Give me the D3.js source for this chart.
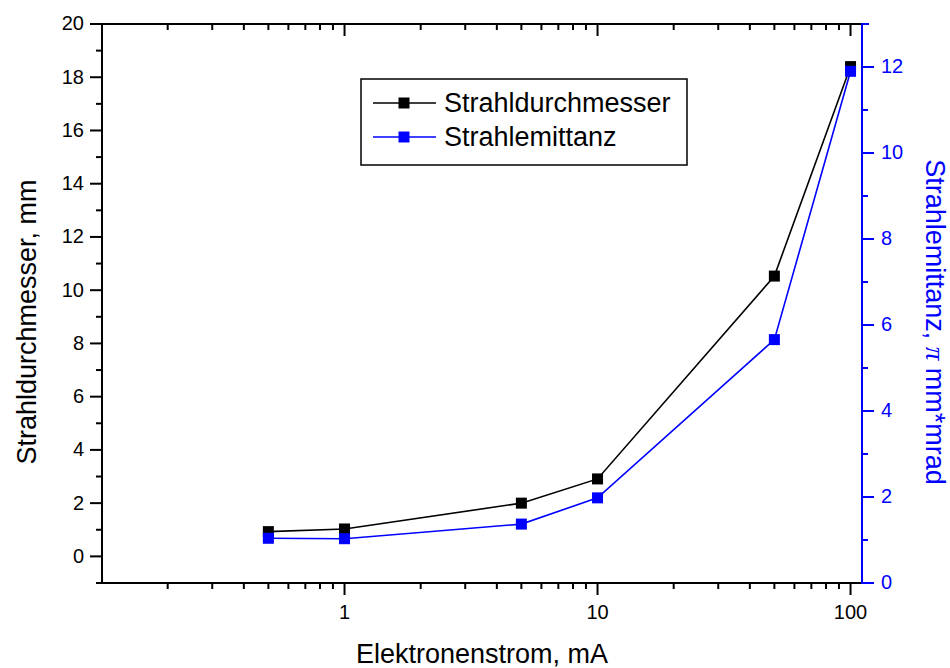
<!DOCTYPE html>
<html>
<head>
<meta charset="utf-8">
<script src="https://cdn.jsdelivr.net/npm/d3@7"></script>
<style>
  body { margin: 0; background: #fff; }
  svg text { font-family: "Liberation Sans", Arial, sans-serif; }
</style>
</head>
<body>
<div id="chart"></div>
<script>
// data
var current = [0.5, 1, 5, 10, 50, 100];              // Elektronenstrom, mA
var diameter = [0.93, 1.03, 2.0, 2.91, 10.53, 18.4]; // Strahldurchmesser, mm
var emittance = [1.04, 1.03, 1.37, 1.98, 5.66, 11.9]; // Strahlemittanz, pi mm*mrad

var xMajor = [1, 10, 100];
var xMinor = [0.2, 0.3, 0.4, 0.5, 0.6, 0.7, 0.8, 0.9, 2, 3, 4, 5, 6, 7, 8, 9, 20, 30, 40, 50, 60, 70, 80, 90];
var leftMajor = [0, 2, 4, 6, 8, 10, 12, 14, 16, 18, 20];
var leftMinor = [-1, 1, 3, 5, 7, 9, 11, 13, 15, 17, 19];
var rightMajor = [0, 2, 4, 6, 8, 10, 12];
var rightMinor = [1, 3, 5, 7, 9, 11];

var W = 950, H = 668;
var margin = {top: 24, right: 88, bottom: 85, left: 102},
    width = W - margin.left - margin.right,
    height = H - margin.top - margin.bottom;

var svg = d3.select("#chart")
  .append("svg")
  .attr("width", W)
  .attr("height", H);
var chart = svg.append("g")
  .attr("transform", "translate(" + margin.left + "," + margin.top + ")");

var x = d3.scaleLog().domain([0.11, 111]).range([0, width]);
var yL = d3.scaleLinear().domain([-1, 20]).range([height, 0]);
var yR = d3.scaleLinear().domain([0, 13]).range([height, 0]);

function styleAxis(g, color) {
  g.select(".domain").remove();
  g.selectAll(".tick line").attr("stroke", color).attr("stroke-width", 2);
  g.selectAll(".tick text").attr("fill", color).style("font-size", "20px");
}

// bottom axis
chart.append("g")
  .attr("transform", "translate(0," + height + ")")
  .call(d3.axisBottom(x).tickValues(xMinor).tickSize(6).offset(0).tickFormat(""))
  .call(styleAxis, "#000");
chart.append("g")
  .attr("transform", "translate(0," + height + ")")
  .call(d3.axisBottom(x).tickValues(xMajor).tickSize(12).offset(0).tickPadding(10).tickFormat(d3.format("d")))
  .call(styleAxis, "#000");

// top mirror axis (ticks inward)
chart.append("g")
  .call(d3.axisBottom(x).tickValues(xMinor).tickSize(6).offset(0).tickFormat(""))
  .call(styleAxis, "#000");
chart.append("g")
  .call(d3.axisBottom(x).tickValues(xMajor).tickSize(12).offset(0).tickFormat(""))
  .call(styleAxis, "#000");

// left axis
chart.append("g")
  .call(d3.axisLeft(yL).tickValues(leftMinor).tickSize(6).offset(0).tickFormat(""))
  .call(styleAxis, "#000");
chart.append("g")
  .call(d3.axisLeft(yL).tickValues(leftMajor).tickSize(12).offset(0).tickPadding(6).tickFormat(d3.format("d")))
  .call(styleAxis, "#000");

// right axis (blue)
chart.append("g")
  .attr("transform", "translate(" + width + ",0)")
  .call(d3.axisRight(yR).tickValues(rightMinor).tickSize(6).offset(0).tickFormat(""))
  .call(styleAxis, "#0000ff");
chart.append("g")
  .attr("transform", "translate(" + width + ",0)")
  .call(d3.axisRight(yR).tickValues(rightMajor).tickSize(12).offset(0).tickPadding(7).tickFormat(d3.format("d")))
  .call(styleAxis, "#0000ff");

// frame
chart.append("line").attr("x1", -1).attr("x2", width).attr("y1", height).attr("y2", height)
  .attr("stroke", "#000").attr("stroke-width", 2);
chart.append("line").attr("x1", -1).attr("x2", width).attr("y1", 0).attr("y2", 0)
  .attr("stroke", "#000").attr("stroke-width", 2);
chart.append("line").attr("x1", 0).attr("x2", 0).attr("y1", 0).attr("y2", height + 1)
  .attr("stroke", "#000").attr("stroke-width", 2);
chart.append("line").attr("x1", width).attr("x2", width).attr("y1", -1).attr("y2", height + 1)
  .attr("stroke", "#0000ff").attr("stroke-width", 2);
chart.append("line").attr("x1", width).attr("x2", width + 7).attr("y1", 0).attr("y2", 0)
  .attr("stroke", "#0000ff").attr("stroke-width", 2);

// series
var series = [
  {name: "Strahldurchmesser", values: diameter, y: yL, color: "#000000"},
  {name: "Strahlemittanz", values: emittance, y: yR, color: "#0000ff"}
];
var sq = 11;

series.forEach(function(s) {
  var line = d3.line()
    .x(function(d, i) { return x(current[i]); })
    .y(function(d) { return s.y(d); });
  chart.append("path")
    .datum(s.values)
    .attr("d", line)
    .attr("fill", "none")
    .attr("stroke", s.color)
    .attr("stroke-width", 1.6);
});
series.forEach(function(s) {
  chart.selectAll(null)
    .data(s.values)
    .enter()
    .append("rect")
    .attr("x", function(d, i) { return x(current[i]) - sq / 2; })
    .attr("y", function(d) { return s.y(d) - sq / 2; })
    .attr("width", sq)
    .attr("height", sq)
    .attr("fill", s.color);
});

// legend
var legend = svg.append("g");
legend.append("rect")
  .attr("x", 361).attr("y", 79).attr("width", 326).attr("height", 86)
  .attr("fill", "#fff").attr("stroke", "#000").attr("stroke-width", 1.5);
series.forEach(function(s, i) {
  var ly = 103 + i * 34;
  legend.append("line")
    .attr("x1", 373).attr("x2", 436).attr("y1", ly).attr("y2", ly)
    .attr("stroke", s.color).attr("stroke-width", 1.6);
  legend.append("rect")
    .attr("x", 404 - sq / 2).attr("y", ly - sq / 2).attr("width", sq).attr("height", sq)
    .attr("fill", s.color);
  legend.append("text")
    .attr("x", 444).attr("y", ly)
    .attr("dominant-baseline", "central")
    .style("font-size", "27px")
    .text(s.name);
});

// axis titles
svg.append("text")
  .attr("x", margin.left + width / 2)
  .attr("y", 663)
  .attr("text-anchor", "middle")
  .style("font-size", "27px")
  .text("Elektronenstrom, mA");

svg.append("text")
  .attr("transform", "translate(36,322) rotate(-90)")
  .attr("text-anchor", "middle")
  .style("font-size", "27px")
  .text("Strahldurchmesser, mm");

var rt = svg.append("text")
  .attr("transform", "translate(926,322) rotate(90)")
  .attr("text-anchor", "middle")
  .attr("fill", "#0000ff")
  .style("font-size", "27px");
rt.append("tspan").text("Strahlemittanz, ");
rt.append("tspan").style("font-style", "italic").style("font-family", "'Liberation Serif', serif").text("\u03c0");
rt.append("tspan").text(" mm*mrad");
</script>
</body>
</html>
